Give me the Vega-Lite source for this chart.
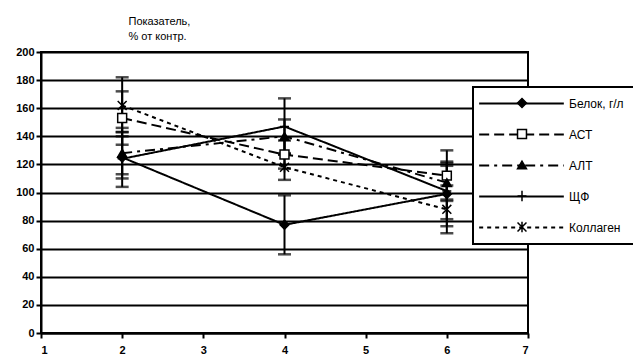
{
  "$schema": "https://vega.github.io/schema/vega-lite/v6.json",
  "width": 487,
  "height": 281,
  "autosize": {"type": "none"},
  "padding": {"left": 41, "top": 52, "right": 105, "bottom": 26},
  "background": "white",
  "config": {
    "font": "Liberation Sans",
    "view": {"stroke": "black", "strokeWidth": 2},
    "axis": {
      "domainColor": "black",
      "domainWidth": 2,
      "tickColor": "black",
      "tickWidth": 2,
      "tickSize": 5,
      "labelColor": "black",
      "labelFont": "Liberation Sans",
      "labelFontWeight": "bold",
      "labelFontSize": 11,
      "labelOverlap": false
    },
    "axisY": {
      "title": ["Показатель,", "% от контр."],
      "titleAngle": 0,
      "titleAlign": "left",
      "titleBaseline": "top",
      "titleX": 87,
      "titleY": -37,
      "titleFontWeight": "normal",
      "titleFontSize": 11,
      "titleColor": "black",
      "titleLineHeight": 15,
      "grid": true,
      "gridColor": "black",
      "gridWidth": 2,
      "gridOpacity": 1,
      "labelPadding": 2,
      "format": "d"
    }
  },
  "data": {
    "values": [
      {"series": "Белок, г/л", "k": "1", "x": 2, "y": 125, "lo": 104, "hi": 146},
      {"series": "Белок, г/л", "k": "1", "x": 4, "y": 77, "lo": 56, "hi": 98},
      {"series": "Белок, г/л", "k": "1", "x": 6, "y": 99, "lo": 76, "hi": 122},
      {"series": "АСТ", "k": "2", "x": 2, "y": 153, "lo": 134, "hi": 172},
      {"series": "АСТ", "k": "2", "x": 4, "y": 127, "lo": 117, "hi": 137},
      {"series": "АСТ", "k": "2", "x": 6, "y": 112, "lo": 94, "hi": 130},
      {"series": "АЛТ", "k": "3", "x": 2, "y": 128, "lo": 113, "hi": 143},
      {"series": "АЛТ", "k": "3", "x": 4, "y": 140, "lo": 128, "hi": 152},
      {"series": "АЛТ", "k": "3", "x": 6, "y": 107, "lo": 95, "hi": 119},
      {"series": "ЩФ", "k": "4", "x": 2, "y": 124, "lo": 110, "hi": 140},
      {"series": "ЩФ", "k": "4", "x": 4, "y": 147, "lo": 127, "hi": 167},
      {"series": "ЩФ", "k": "4", "x": 6, "y": 101, "lo": 81, "hi": 121},
      {"series": "Коллаген", "k": "5", "x": 2, "y": 162, "lo": 143, "hi": 182},
      {"series": "Коллаген", "k": "5", "x": 4, "y": 118, "lo": 109, "hi": 127},
      {"series": "Коллаген", "k": "5", "x": 6, "y": 88, "lo": 71, "hi": 105}
    ]
  },
  "encoding": {
    "x": {
      "field": "x",
      "type": "quantitative",
      "scale": {"domain": [1, 7], "nice": false, "zero": false},
      "axis": {"title": null, "values": [1, 2, 3, 4, 5, 6, 7], "grid": false, "labelPadding": 6, "format": "d"}
    }
  },
  "layer": [
    {
      "mark": {
        "type": "errorbar",
        "ticks": {"size": 13, "thickness": 2.5, "color": "black"},
        "rule": {"color": "black", "strokeWidth": 2}
      },
      "encoding": {
        "y": {
          "field": "lo",
          "type": "quantitative",
          "scale": {"domain": [0, 200], "nice": false},
          "axis": {"title": ["Показатель,", "% от контр."], "values": [0, 20, 40, 60, 80, 100, 120, 140, 160, 180, 200]}
        },
        "y2": {"field": "hi"}
      }
    },
    {
      "mark": {"type": "line", "color": "black", "strokeWidth": 2},
      "encoding": {
        "y": {
          "field": "y",
          "type": "quantitative",
          "axis": {"title": ["Показатель,", "% от контр."], "values": [0, 20, 40, 60, 80, 100, 120, 140, 160, 180, 200]}
        },
        "strokeDash": {
          "field": "series",
          "type": "nominal",
          "scale": {
            "domain": ["Белок, г/л", "АСТ", "АЛТ", "ЩФ", "Коллаген"],
            "range": [[1, 0], [10, 5], [10, 5, 3, 5], [1, 0], [4, 4]]
          },
          "legend": {
            "title": null,
            "orient": "none",
            "legendX": 432,
            "legendY": 35,
            "zindex": 0,
            "gridAlign": "all",
            "symbolType": "M-8,0L8,0",
            "symbolSize": 112,
            "symbolStrokeWidth": 2,
            "symbolStrokeColor": "black",
            "symbolOffset": 32,
            "labelOffset": 41,
            "labelFontSize": 12,
            "labelFont": "Liberation Sans",
            "labelColor": "black",
            "rowPadding": 18,
            "padding": 10,
            "strokeColor": "black",
            "fillColor": "white",
            "encode": {
              "legend": {"update": {"strokeWidth": {"value": 2}}},
              "symbols": {"update": {"stroke": {"value": "black"}, "strokeWidth": {"value": 2}}}
            }
          }
        }
      }
    },
    {
      "mark": {"type": "point", "filled": true, "stroke": "black", "strokeWidth": 1.5, "size": 80, "opacity": 1},
      "encoding": {
        "y": {
          "field": "y",
          "type": "quantitative",
          "axis": {"title": ["Показатель,", "% от контр."], "values": [0, 20, 40, 60, 80, 100, 120, 140, 160, 180, 200]}
        },
        "shape": {
          "field": "k",
          "type": "nominal",
          "scale": {
            "domain": ["1", "2", "3", "4", "5"],
            "range": ["diamond", "square", "triangle-up", "M-1,0L1,0M0,-1.2L0,1.2", "M-1,-1L1,1M-1,1L1,-1M0,-1.2L0,1.2"]
          },
          "legend": {
            "title": null,
            "orient": "none",
            "legendX": 432,
            "legendY": 35,
            "zindex": 1,
            "gridAlign": "all",
            "symbolSize": 80,
            "symbolOffset": 33,
            "labelOffset": 2,
            "labelFontSize": 12,
            "labelExpr": "' '",
            "rowPadding": 13,
            "padding": 10,
            "encode": {"symbols": {"update": {"stroke": {"value": "black"}, "strokeWidth": {"value": 1.5}, "opacity": {"value": 1}}}}
          }
        },
        "fill": {
          "field": "k",
          "type": "nominal",
          "scale": {
            "domain": ["1", "2", "3", "4", "5"],
            "range": ["black", "white", "black", "black", "black"]
          },
          "legend": {
            "title": null,
            "orient": "none",
            "legendX": 432,
            "legendY": 35,
            "zindex": 1,
            "gridAlign": "all",
            "symbolSize": 80,
            "symbolOffset": 33,
            "labelOffset": 2,
            "labelFontSize": 12,
            "labelExpr": "' '",
            "rowPadding": 13,
            "padding": 10,
            "encode": {"symbols": {"update": {"stroke": {"value": "black"}, "strokeWidth": {"value": 1.5}, "opacity": {"value": 1}}}}
          }
        }
      }
    }
  ]
}
